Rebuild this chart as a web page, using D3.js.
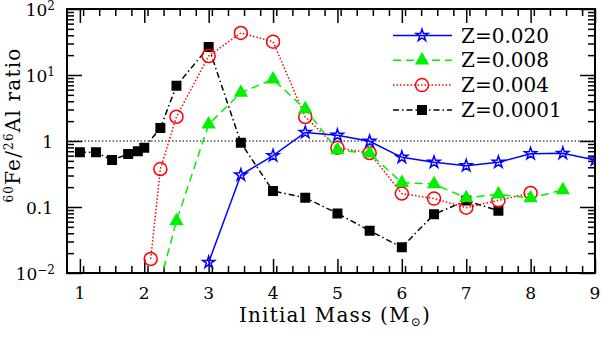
<!DOCTYPE html>
<html>
<head>
<meta charset="utf-8">
<script src="https://cdn.jsdelivr.net/npm/d3@7"></script>
<style>
  body { margin: 0; background: #fff; }
  text { font-family: "DejaVu Serif", serif; fill: #000; }
</style>
</head>
<body>
<div id="chart"></div>
<script>
// data
var massZ020 = [3, 3.5, 4, 4.5, 5, 5.5, 6, 6.5, 7, 7.5, 8, 8.5, 9];
var ratioZ020 = [0.0145, 0.305, 0.60, 1.35, 1.22, 0.99, 0.566, 0.476, 0.422, 0.476, 0.642, 0.65, 0.515];

var massZ008 = [2.25, 2.5, 3, 3.5, 4, 4.5, 5, 5.5, 6, 6.5, 7, 7.5, 8, 8.5];
var ratioZ008 = [0.0075, 0.0614, 1.79, 5.39, 8.6, 3.05, 0.73, 0.65, 0.233, 0.223, 0.137, 0.156, 0.136, 0.181];

var massZ004 = [2.1, 2.25, 2.5, 3, 3.5, 4, 4.5, 5, 5.5, 6, 6.5, 7, 7.5, 8];
var ratioZ004 = [0.0163, 0.376, 2.33, 19.4, 43.3, 32, 2.31, 0.79, 0.658, 0.160, 0.134, 0.0977, 0.126, 0.163];

var massZ0001 = [1, 1.25, 1.5, 1.75, 1.9, 2, 2.25, 2.5, 3, 3.5, 4, 4.5, 5, 5.5, 6, 6.5, 7, 7.5];
var ratioZ0001 = [0.674, 0.674, 0.515, 0.635, 0.698, 0.79, 1.57, 6.88, 26.5, 0.94, 0.175, 0.138, 0.080, 0.0437, 0.0245, 0.0775, 0.125, 0.088];

var seriesNames = ["Z=0.020", "Z=0.008", "Z=0.004", "Z=0.0001"];
var xTicks = [1, 2, 3, 4, 5, 6, 7, 8, 9];
var yTicks = [0.01, 0.1, 1, 10, 100];
var yTickLabels = [["10", "\u22122"], ["0.1", ""], ["1", ""], ["10", "1"], ["10", "2"]];

var svgWidth = 601, svgHeight = 339;
var plotLeft = 67, plotRight = 595, plotTop = 9, plotBottom = 273;

var svg = d3.select("#chart").append("svg")
    .attr("width", svgWidth)
    .attr("height", svgHeight);

var x = d3.scaleLinear().domain([0.8, 9]).range([plotLeft, plotRight]);
var y = d3.scaleLog().domain([0.01, 100]).range([plotBottom, plotTop]);

// minor ticks
var xMinor = d3.range(0.8, 9.0001, 0.25).map(function(d) { return Math.round(d * 100) / 100; })
    .filter(function(d) { return xTicks.indexOf(d) < 0 && d > 0.8; });
var yMinor = [];
[0.01, 0.1, 1, 10].forEach(function(dec) {
    for (var k = 2; k <= 9; k++) yMinor.push(dec * k);
});

function styleAxis(g) {
    g.select(".domain").remove();
    g.selectAll(".tick line").attr("stroke", "#000").attr("stroke-width", 1.5);
    g.selectAll(".tick text").remove();
}

// bottom and top axes
svg.append("g").attr("transform", "translate(0," + plotBottom + ")")
    .call(d3.axisBottom(x).tickValues(xTicks).tickSize(-14)).call(styleAxis);
svg.append("g").attr("transform", "translate(0," + plotBottom + ")")
    .call(d3.axisBottom(x).tickValues(xMinor).tickSize(-7)).call(styleAxis);
svg.append("g").attr("transform", "translate(0," + plotTop + ")")
    .call(d3.axisTop(x).tickValues(xTicks).tickSize(-14)).call(styleAxis);
svg.append("g").attr("transform", "translate(0," + plotTop + ")")
    .call(d3.axisTop(x).tickValues(xMinor).tickSize(-7)).call(styleAxis);

// left and right axes
svg.append("g").attr("transform", "translate(" + plotLeft + ",0)")
    .call(d3.axisLeft(y).tickValues(yTicks).tickSize(-15)).call(styleAxis);
svg.append("g").attr("transform", "translate(" + plotLeft + ",0)")
    .call(d3.axisLeft(y).tickValues(yMinor).tickSize(-7)).call(styleAxis);
svg.append("g").attr("transform", "translate(" + plotRight + ",0)")
    .call(d3.axisRight(y).tickValues(yTicks).tickSize(-15)).call(styleAxis);
svg.append("g").attr("transform", "translate(" + plotRight + ",0)")
    .call(d3.axisRight(y).tickValues(yMinor).tickSize(-7)).call(styleAxis);

// tick labels
svg.append("g").selectAll("text").data(xTicks).enter().append("text")
    .attr("x", function(d) { return x(d); })
    .attr("y", 299)
    .attr("text-anchor", "middle")
    .style("font-size", "17px")
    .text(function(d) { return d; });

var yl = svg.append("g").selectAll("text").data(yTicks).enter().append("text")
    .attr("x", function(d, i) { return yTickLabels[i][1] ? 55 : 53; })
    .attr("y", function(d) { return y(d) + 7; })
    .attr("text-anchor", "end")
    .style("font-size", "17px");
yl.append("tspan").text(function(d, i) { return yTickLabels[i][0]; });
yl.append("tspan")
    .attr("dy", -6)
    .style("font-size", "12px")
    .text(function(d, i) { return yTickLabels[i][1]; });

// axis titles
var xt = svg.append("text")
    .attr("x", 335).attr("y", 322)
    .attr("text-anchor", "middle")
    .style("font-size", "20px")
    .style("letter-spacing", "1.2px");
xt.append("tspan").text("Initial Mass (M");
xt.append("tspan").attr("dy", 4).style("font-size", "12px").text("\u2299");
xt.append("tspan").attr("dy", -4).text(")");

var yt = svg.append("text")
    .attr("transform", "translate(20,125) rotate(-90)")
    .attr("text-anchor", "middle")
    .style("font-size", "20px")
    .style("letter-spacing", "1.2px");
yt.append("tspan").attr("dy", -7).style("font-size", "12px").text("60");
yt.append("tspan").attr("dy", 7).text("Fe/");
yt.append("tspan").attr("dy", -7).style("font-size", "12px").text("26");
yt.append("tspan").attr("dy", 7).text("Al ratio");

// clip to the frame
svg.append("clipPath").attr("id", "clip")
    .append("rect").attr("x", plotLeft).attr("y", plotTop)
    .attr("width", plotRight - plotLeft).attr("height", plotBottom - plotTop);

var plot = svg.append("g").attr("clip-path", "url(#clip)");

// dotted line at ratio 1
plot.append("line")
    .attr("x1", plotLeft).attr("x2", plotRight)
    .attr("y1", y(1)).attr("y2", y(1))
    .attr("stroke", "#000").attr("stroke-width", 1)
    .attr("stroke-dasharray", "1.5,2");

var series = [
    { name: seriesNames[0], mass: massZ020, ratio: ratioZ020, color: "#0000ff", dash: null, symbol: d3.symbolStar, size: 45, filled: false },
    { name: seriesNames[1], mass: massZ008, ratio: ratioZ008, color: "#00f000", dash: "8,5", symbol: d3.symbolTriangle, size: 60, filled: true },
    { name: seriesNames[2], mass: massZ004, ratio: ratioZ004, color: "#ff0000", dash: "1.5,2", symbol: d3.symbolCircle, size: 133, filled: false },
    { name: seriesNames[3], mass: massZ0001, ratio: ratioZ0001, color: "#000000", dash: "6,3,1.5,3", symbol: d3.symbolSquare, size: 72, filled: true }
];

var line = d3.line()
    .x(function(d) { return x(d[0]); })
    .y(function(d) { return y(d[1]); });

function drawMarker(g, s) {
    g.attr("d", d3.symbol().type(s.symbol).size(s.size))
        .attr("fill", s.filled ? s.color : "none")
        .attr("stroke", s.color)
        .attr("stroke-width", 1.5);
}

series.slice().reverse().forEach(function(s) {
    var pts = d3.zip(s.mass, s.ratio);
    plot.append("path")
        .datum(pts)
        .attr("d", line)
        .attr("fill", "none")
        .attr("stroke", s.color)
        .attr("stroke-width", 1.5)
        .attr("stroke-dasharray", s.dash);
    plot.selectAll(null).data(pts).enter().append("path")
        .attr("transform", function(d) { return "translate(" + x(d[0]) + "," + y(d[1]) + ")"; })
        .call(drawMarker, s);
});

// legend
var legend = svg.append("g");
series.forEach(function(s, i) {
    var ly = 35.5 + i * 24.8;
    legend.append("line")
        .attr("x1", 393).attr("x2", 452)
        .attr("y1", ly).attr("y2", ly)
        .attr("stroke", s.color).attr("stroke-width", 1.5)
        .attr("stroke-dasharray", s.dash);
    legend.append("path")
        .attr("transform", "translate(422," + ly + ")")
        .call(drawMarker, s);
    legend.append("text")
        .attr("x", 461).attr("y", ly + 7)
        .style("font-size", "20px")
        .text(s.name);
});

// frame
svg.append("rect")
    .attr("x", plotLeft).attr("y", plotTop)
    .attr("width", plotRight - plotLeft).attr("height", plotBottom - plotTop)
    .attr("fill", "none").attr("stroke", "#000").attr("stroke-width", 2);
</script>
</body>
</html>
